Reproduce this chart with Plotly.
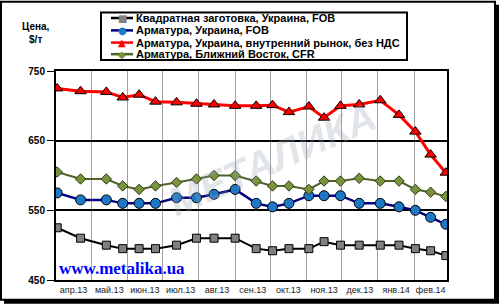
import plotly.graph_objects as go
import pandas as pd

# ---------------- data ----------------
dates = ["2013-04-02", "2013-04-22", "2013-05-14", "2013-05-28", "2013-06-11",
         "2013-06-25", "2013-07-13", "2013-07-30", "2013-08-14", "2013-09-01",
         "2013-09-19", "2013-10-03", "2013-10-17", "2013-11-03", "2013-11-16",
         "2013-11-30", "2013-12-16", "2014-01-03", "2014-01-19", "2014-02-02",
         "2014-02-15", "2014-02-28"]
billet_ua_fob = [525, 510, 500, 495, 495, 495, 500, 510, 510, 510, 495,
                 492, 495, 495, 505, 500, 500, 500, 500, 495, 492, 485]
rebar_ua_fob = [575, 565, 565, 560, 560, 560, 568, 568, 573, 580, 560,
                555, 560, 571, 571, 571, 560, 560, 555, 550, 540, 530]
rebar_ua_domestic = [725, 721, 720, 712, 716, 706, 705, 703, 702, 700, 700,
                     701, 691, 699, 683, 700, 702, 708, 687, 663, 630, 604]
rebar_me_cfr = [605, 595, 595, 585, 580, 585, 590, 595, 600, 600, 592,
                585, 585, 580, 592, 592, 596, 592, 592, 580, 576, 570]

series_names = ["Квадратная заготовка, Украина, FOB",
                "Арматура, Украина, FOB",
                "Арматура, Украина, внутренний рынок, без НДС",
                "Арматура, Ближний Восток, CFR"]
month_labels = ["апр.13", "май.13", "июн.13", "июл.13", "авг.13", "сен.13",
                "окт.13", "ноя.13", "дек.13", "янв.14", "фев.14"]
y_ticks = [450, 550, 650, 750]

# ---------------- geometry helpers ----------------
W, H = 500, 307
PL, PR, PT, PB = 56, 447, 71, 282


def px(x):
    return (x - PL) / (PR - PL)


def py(y):
    return (PB - y) / (PB - PT)


FONT = "Liberation Sans, Arial, sans-serif"

month_starts = pd.date_range("2013-04-01", "2014-03-01", freq="MS")
month_mids = [s + (e - s) / 2 for s, e in zip(month_starts[:-1], month_starts[1:])]

styles = [
    dict(line=dict(color="#000000", width=2),
         marker=dict(symbol="square", size=8, color="#808080",
                     line=dict(color="#000000", width=1))),
    dict(line=dict(color="#000080", width=2.5),
         marker=dict(symbol="circle", size=10, color="#1E78C8",
                     line=dict(color="#000000", width=1))),
    dict(line=dict(color="#FF0000", width=3),
         marker=dict(symbol="triangle-up", size=10, color="#FF0000",
                     line=dict(color="#000000", width=1))),
    dict(line=dict(color="#4F6228", width=2),
         marker=dict(symbol="diamond", size=8, color="#77933C",
                     line=dict(color="#2F3A17", width=1))),
]
values = [billet_ua_fob, rebar_ua_fob, rebar_ua_domestic, rebar_me_cfr]

fig = go.Figure()
for name, vals, st in zip(series_names, values, styles):
    fig.add_trace(go.Scatter(x=dates, y=vals, name=name, mode="lines+markers",
                             line=st["line"], marker=st["marker"],
                             showlegend=False))

shapes = []
# outer frame with shadow
shapes.append(dict(type="rect", xref="paper", yref="paper", layer="below",
                   x0=px(4), x1=px(499), y0=py(306), y1=py(4),
                   fillcolor="#000000", line=dict(width=0)))
shapes.append(dict(type="rect", xref="paper", yref="paper", layer="below",
                   x0=px(1), x1=px(495), y0=py(302), y1=py(1),
                   fillcolor="#FFFFFF", line=dict(color="#000000", width=2)))
# legend box
shapes.append(dict(type="rect", xref="paper", yref="paper",
                   x0=px(101), x1=px(407), y0=py(60), y1=py(12),
                   fillcolor="#FFFFFF", line=dict(color="#000000", width=2)))

annotations = []
row_y = [17.5, 30, 42.3, 54]
glyphs = ["■", "●", "▲", "◆"]
for i, (name, st) in enumerate(zip(series_names, styles)):
    shapes.append(dict(type="line", xref="paper", yref="paper",
                       x0=px(111), x1=px(133), y0=py(row_y[i]), y1=py(row_y[i]),
                       line=dict(color=st["line"]["color"], width=2.5)))
    annotations.append(dict(xref="paper", yref="paper", x=px(122), y=py(row_y[i]),
                            text=glyphs[i], showarrow=False, xanchor="center",
                            yanchor="middle",
                            font=dict(family="DejaVu Sans", size=10,
                                      color=st["marker"]["color"])))
    annotations.append(dict(xref="paper", yref="paper", x=px(134), y=py(row_y[i]),
                            text="<b>" + name + "</b>", showarrow=False,
                            xanchor="left", yanchor="middle",
                            font=dict(family=FONT, size=11, color="#000000")))

# y-axis title
annotations.append(dict(xref="paper", yref="paper", x=px(36), y=py(33),
                        text="<b>Цена,</b><br><b>$/т</b>", showarrow=False,
                        xanchor="center", yanchor="middle",
                        font=dict(family=FONT, size=10, color="#000000")))
# watermark
annotations.append(dict(xref="paper", yref="paper", x=px(272), y=py(160),
                        text="<b><i>МЕТАЛИКА</i></b>", showarrow=False,
                        textangle=-24, xanchor="center", yanchor="middle",
                        font=dict(family=FONT, size=40,
                                  color="rgba(150,165,180,0.30)")))
# site
annotations.append(dict(xref="paper", yref="paper", x=px(57), y=py(270),
                        text="<b>www.metalika.ua</b>", showarrow=False,
                        xanchor="left", yanchor="middle",
                        font=dict(family="Liberation Serif, Times New Roman, serif",
                                  size=17, color="#0000FF")))

fig.update_layout(
    width=W, height=H,
    margin=dict(l=PL, r=W - PR, t=PT, b=H - PB, pad=0),
    paper_bgcolor="#FFFFFF", plot_bgcolor="#FFFFFF",
    shapes=shapes, annotations=annotations,
    showlegend=False,
    xaxis=dict(type="date", range=[month_starts[0], month_starts[-1]],
               tickmode="array", tickvals=month_mids, ticktext=month_labels,
               ticks="", showgrid=False, zeroline=False,
               tickfont=dict(family=FONT, size=9, color="#222222"),
               showline=True, linecolor="#000000", linewidth=2, mirror=True,
               minor=dict(tickmode="array", tickvals=list(month_starts),
                          showgrid=True, gridcolor="#A0A0A0", gridwidth=1,
                          ticks=""),
               fixedrange=True),
    yaxis=dict(range=[450, 750], tickmode="array", tickvals=y_ticks,
               ticks="outside", ticklen=7, tickcolor="#000000", tickwidth=1,
               showgrid=True, gridcolor="#000000", gridwidth=1.5,
               zeroline=False,
               tickfont=dict(family=FONT, size=10, color="#000000", weight="bold"),
               showline=True, linecolor="#000000", linewidth=2, mirror=True,
               fixedrange=True),
)

fig.write_html("out.html")
